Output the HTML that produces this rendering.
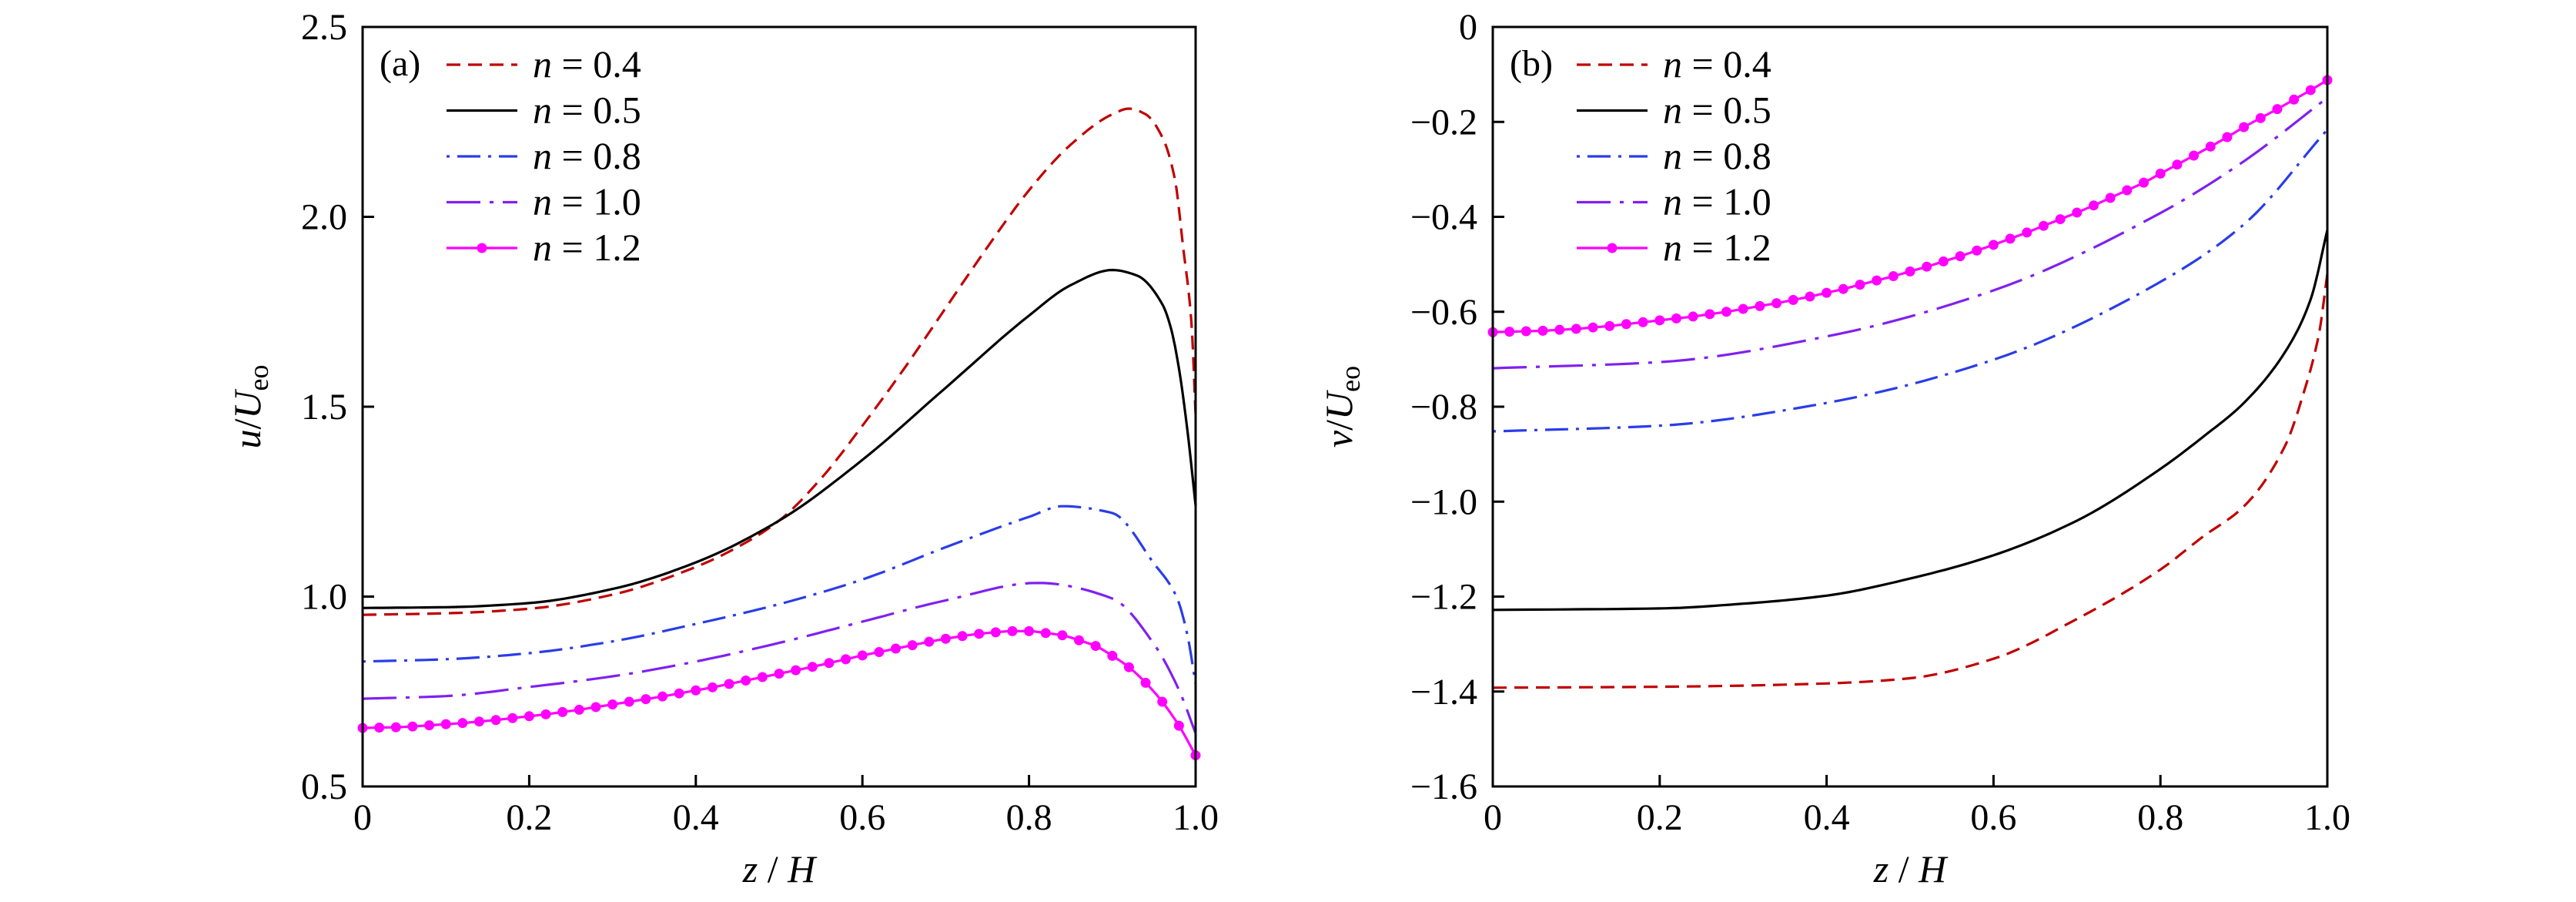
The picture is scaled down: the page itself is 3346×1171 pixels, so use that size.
<!DOCTYPE html>
<html><head><meta charset="utf-8"><style>
html,body{margin:0;padding:0;background:#fff;}
svg{display:block;font-family:"Liberation Serif",serif;}
</style></head><body>
<svg id="chart" width="3346" height="1171" viewBox="0 0 3346 1171" xmlns="http://www.w3.org/2000/svg"></svg>
<script>
const xTicks=[0,0.2,0.4,0.6,0.8,1.0];
const xTickLabels=["0","0.2","0.4","0.6","0.8","1.0"];
const aYTicks=[0.5,1.0,1.5,2.0,2.5];
const aYTickLabels=["0.5","1.0","1.5","2.0","2.5"];
const bYTicks=[0,-0.2,-0.4,-0.6,-0.8,-1.0,-1.2,-1.4,-1.6];
const bYTickLabels=["0","\u22120.2","\u22120.4","\u22120.6","\u22120.8","\u22121.0","\u22121.2","\u22121.4","\u22121.6"];
const seriesNames=["n = 0.4","n = 0.5","n = 0.8","n = 1.0","n = 1.2"];
// panel a
const aX04=[0,0.1,0.2,0.3,0.4,0.45,0.5,0.55,0.6,0.65,0.7,0.75,0.8,0.85,0.9,0.92,0.94,0.96,0.975,0.985,0.995,1.0];
const aY04=[0.952,0.956,0.968,1.005,1.078,1.13,1.2,1.31,1.45,1.6,1.76,1.92,2.07,2.19,2.27,2.285,2.27,2.21,2.1,1.92,1.72,1.48];
const aX05=[0,0.1,0.2,0.3,0.4,0.5,0.6,0.7,0.8,0.85,0.9,0.93,0.96,0.97,0.98,0.99,1.0];
const aY05=[0.97,0.972,0.983,1.02,1.09,1.2,1.36,1.55,1.74,1.82,1.86,1.845,1.77,1.71,1.6,1.44,1.24];
const aX08=[0,0.1,0.2,0.3,0.4,0.5,0.6,0.7,0.8,0.84,0.9,0.95,0.977,0.99,1.0];
const aY08=[0.829,0.835,0.851,0.882,0.928,0.98,1.045,1.13,1.21,1.238,1.22,1.087,1.0,0.9,0.77];
const aX10=[0,0.1,0.2,0.3,0.4,0.5,0.6,0.7,0.81,0.9,0.95,0.98,1.0];
const aY10=[0.731,0.738,0.762,0.79,0.829,0.878,0.934,0.99,1.036,0.995,0.875,0.754,0.64];
const aX12=[0,0.02,0.04,0.06,0.08,0.1,0.12,0.14,0.16,0.18,0.2,0.22,0.24,0.26,0.28,0.3,0.32,0.34,0.36,0.38,0.4,0.42,0.44,0.46,0.48,0.5,0.52,0.54,0.56,0.58,0.6,0.62,0.64,0.66,0.68,0.7,0.72,0.74,0.76,0.78,0.8,0.82,0.84,0.86,0.88,0.9,0.92,0.94,0.96,0.98,1.0];
const aY12=[0.654,0.655,0.656,0.658,0.661,0.664,0.667,0.671,0.675,0.680,0.685,0.690,0.696,0.702,0.709,0.716,0.723,0.730,0.737,0.745,0.753,0.761,0.770,0.779,0.788,0.797,0.806,0.815,0.825,0.835,0.845,0.854,0.863,0.872,0.881,0.889,0.896,0.902,0.906,0.909,0.909,0.904,0.898,0.885,0.870,0.844,0.814,0.773,0.723,0.660,0.582];
// panel b
const bX04=[0,0.2,0.4,0.5,0.6,0.7,0.8,0.85,0.9,0.95,0.97,0.99,1.0];
const bY04=[-1.392,-1.39,-1.383,-1.372,-1.331,-1.247,-1.143,-1.075,-1.01,-0.88,-0.78,-0.646,-0.52];
const bX05=[0,0.2,0.3,0.4,0.5,0.6,0.7,0.8,0.85,0.9,0.95,0.98,1.0];
const bY05=[-1.228,-1.225,-1.215,-1.198,-1.162,-1.113,-1.04,-0.931,-0.865,-0.792,-0.683,-0.574,-0.428];
const bX08=[0,0.2,0.4,0.6,0.8,0.9,1.0];
const bY08=[-0.852,-0.84,-0.792,-0.701,-0.537,-0.416,-0.216];
const bX10=[0,0.2,0.4,0.6,0.8,0.9,1.0];
const bY10=[-0.719,-0.706,-0.652,-0.555,-0.392,-0.283,-0.149];
const bX12=aX12;
const bY12=[-0.643,-0.642,-0.641,-0.640,-0.638,-0.636,-0.633,-0.630,-0.626,-0.622,-0.618,-0.614,-0.610,-0.605,-0.600,-0.594,-0.588,-0.582,-0.575,-0.568,-0.560,-0.552,-0.543,-0.534,-0.525,-0.515,-0.505,-0.494,-0.483,-0.471,-0.459,-0.446,-0.433,-0.419,-0.405,-0.391,-0.376,-0.360,-0.344,-0.328,-0.309,-0.290,-0.271,-0.252,-0.232,-0.211,-0.192,-0.173,-0.153,-0.133,-0.112];

const NS="http://www.w3.org/2000/svg";
const svg=document.getElementById('chart');
function mk(tag,attrs,parent){const e=document.createElementNS(NS,tag);for(const k in attrs)e.setAttribute(k,attrs[k]);(parent||svg).appendChild(e);return e;}
const styles=[
 {c:"#c00000",d:"18 10",m:false},
 {c:"#000000",d:"",m:false},
 {c:"#2a3de8",d:"4 10 30 10",m:false},
 {c:"#8020f0",d:"44 12 5 12",m:false},
 {c:"#ff00ff",d:"",m:true}];
// monotone cubic (Fritsch-Carlson) interpolation, sampled finely
function monoPath(xs,ys,sx,sy){
 const n=xs.length,h=[],dl=[],m=new Array(n);
 for(let i=0;i<n-1;i++){h[i]=xs[i+1]-xs[i];dl[i]=(ys[i+1]-ys[i])/h[i];}
 m[0]=dl[0];m[n-1]=dl[n-2];
 for(let i=1;i<n-1;i++){
  if(dl[i-1]*dl[i]<=0)m[i]=0;
  else{const w1=2*h[i]+h[i-1],w2=h[i]+2*h[i-1];m[i]=(w1+w2)/(w1/dl[i-1]+w2/dl[i]);}
 }
 let d="";
 for(let i=0;i<n-1;i++){
  const steps=12;
  for(let k=(i==0?0:1);k<=steps;k++){
   const t=k/steps,t2=t*t,t3=t2*t;
   const y=(2*t3-3*t2+1)*ys[i]+(t3-2*t2+t)*h[i]*m[i]+(-2*t3+3*t2)*ys[i+1]+(t3-t2)*h[i]*m[i+1];
   const x=xs[i]+t*h[i];
   d+=(d?" L":"M")+sx(x).toFixed(1)+","+sy(y).toFixed(1);
  }
 }
 return d;
}
function panel(cfg){
 const g=mk('g',{});
 
 
 const L=cfg.L,R=cfg.R,T=35,B=1021;
 const sx=v=>L+(v-0)/(1-0)*(R-L);
 const sy=v=>B-(v-cfg.ymin)/(cfg.ymax-cfg.ymin)*(B-T);
 cfg.series.forEach((s,i)=>{
  const st=styles[i];
  const p=mk('path',{d:monoPath(s.x,s.y,sx,sy),fill:"none",stroke:st.c,"stroke-width":3.2,"stroke-dasharray":st.d||"none","stroke-linejoin":"round"},g);
  
  
  if(st.m){s.x.forEach((xv,j)=>{const c=mk('circle',{cx:sx(xv),cy:sy(s.y[j]),r:6.5,fill:st.c},g);
   
   });}
 });
 const fr=mk('rect',{x:L,y:T,width:R-L,height:B-T,fill:"none",stroke:"#000","stroke-width":3},g);
 
 
 xTicks.forEach((v,i)=>{
  const t=mk('line',{x1:sx(v),x2:sx(v),y1:B,y2:B-15,stroke:"#000","stroke-width":3},g);
  
  
  const tx=mk('text',{x:sx(v),y:B+56,"font-size":48,"text-anchor":"middle"},g);
  tx.textContent=xTickLabels[i];
  
  
 });
 cfg.yTicks.forEach((v,i)=>{
  const t=mk('line',{x1:L,x2:L+15,y1:sy(v),y2:sy(v),stroke:"#000","stroke-width":3},g);
  
  
  const tx=mk('text',{x:L-20,y:sy(v)+16,"font-size":48,"text-anchor":"end"},g);
  tx.textContent=cfg.yLabels[i];
  
  
 });
 const xt=mk('text',{x:(L+R)/2,y:1145,"font-size":50,"text-anchor":"middle","font-style":"italic"},g);
 xt.innerHTML='z<tspan font-style="normal"> / </tspan>H';
 
 
 const yt=mk('text',{x:0,y:0,"font-size":50,"text-anchor":"middle","font-style":"italic",transform:`translate(${cfg.yTitleX},528) rotate(-90)`},g);
 yt.innerHTML=cfg.yVar+'<tspan font-style="normal">/</tspan>U<tspan font-style="normal" font-size="36" dy="10">eo</tspan>';
 
 
 const lg=mk('g',{},g);
 
 
 const pl=mk('text',{x:cfg.tagX,y:98,"font-size":48},lg);
 pl.textContent=cfg.tag;
 
 
 seriesNames.forEach((nm,i)=>{
  const y=84+i*59.5,st=styles[i];
  const e=mk('g',{},lg);
  
  
  mk('line',{x1:cfg.lx1,x2:cfg.lx2,y1:y,y2:y,stroke:st.c,"stroke-width":3.2,"stroke-dasharray":st.d||"none"},e);
  if(st.m)mk('circle',{cx:(cfg.lx1+cfg.lx2)/2,cy:y,r:6.5,fill:st.c},e);
  const t=mk('text',{x:cfg.lx2+20,y:y+16,"font-size":50},e);
  t.innerHTML='<tspan font-style="italic">n</tspan> = '+nm.split('= ')[1];
 });
}
panel({name:'panel-a',L:471,R:1553,ymin:0.5,ymax:2.5,yTicks:aYTicks,yLabels:aYTickLabels,yTitleX:338,yVar:'u',tag:'(a)',tagX:493,lx1:580,lx2:672,
 series:[{x:aX04,y:aY04},{x:aX05,y:aY05},{x:aX08,y:aY08},{x:aX10,y:aY10},{x:aX12,y:aY12}]});
panel({name:'panel-b',L:1939,R:3023,ymin:-1.6,ymax:0,yTicks:bYTicks,yLabels:bYTickLabels,yTitleX:1756,yVar:'v',tag:'(b)',tagX:1961,lx1:2048,lx2:2140,
 series:[{x:bX04,y:bY04},{x:bX05,y:bY05},{x:bX08,y:bY08},{x:bX10,y:bY10},{x:bX12,y:bY12}]});
</script>
</body></html>
